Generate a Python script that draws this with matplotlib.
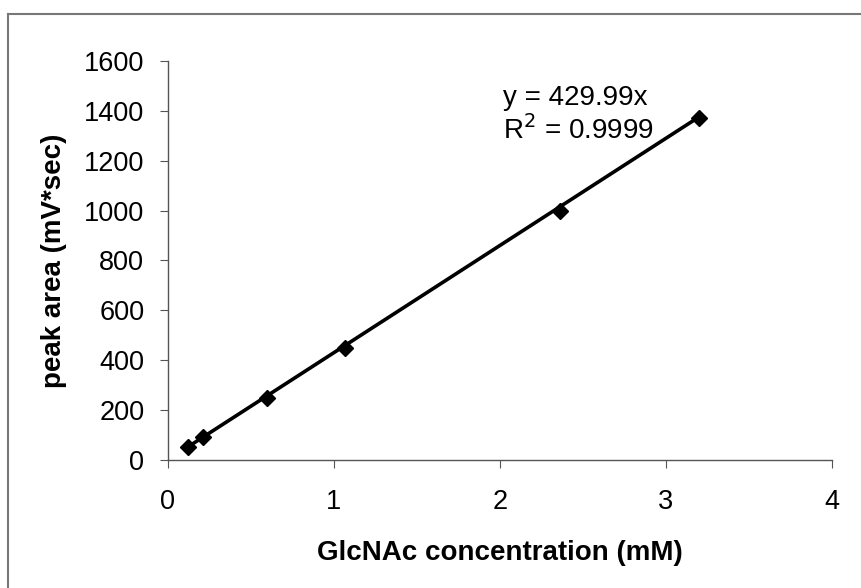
import numpy as np
import matplotlib.pyplot as plt
from matplotlib.lines import Line2D

plt.rcParams['font.family'] = ['Liberation Sans', 'DejaVu Sans']

# GlcNAc standard curve
conc = [0.12, 0.21, 0.60, 1.07, 2.36, 3.20]
area = [50, 90, 250, 450, 1000, 1370]
slope = 429.99
r2 = 0.9999

fig = plt.figure(figsize=(8.61, 5.88), dpi=100)
ax = fig.add_axes([0.195, 0.218, 0.771, 0.678])

xs = np.array([min(conc), max(conc)])
ax.plot(xs, slope * xs, color='black', lw=2.6)
ax.plot(conc, area, 'D', color='black', ms=8)

ax.set_xlim(0, 4)
ax.set_ylim(0, 1600)
ax.set_xticks([0, 1, 2, 3, 4])
ax.set_yticks(range(0, 1601, 200))
for s in ['top', 'right']:
    ax.spines[s].set_visible(False)
for s in ['left', 'bottom']:
    ax.spines[s].set_color('#555555')
    ax.spines[s].set_linewidth(1)
ax.tick_params(labelsize=19.5, length=6, color='#555555')
ax.tick_params(axis='y', pad=11)
ax.tick_params(axis='x', pad=15)
ax.set_xlabel('GlcNAc concentration (mM)', fontsize=20, fontweight='bold', labelpad=18)
ax.set_ylabel('peak area (mV*sec)', fontsize=20, fontweight='bold', labelpad=12)

ax.text(2.02, 1383, 'y = 429.99x\nR$^2$ = %.4f' % r2, fontsize=20, va='center',
        linespacing=1.15)

# outer chart frame (top and left edges visible)
fig.add_artist(Line2D([8/861, 1], [1 - 14/588, 1 - 14/588], color='#777777', lw=1.5))
fig.add_artist(Line2D([8/861, 8/861], [0, 1 - 14/588], color='#777777', lw=1.5))

fig.savefig('out.png', dpi=100)
